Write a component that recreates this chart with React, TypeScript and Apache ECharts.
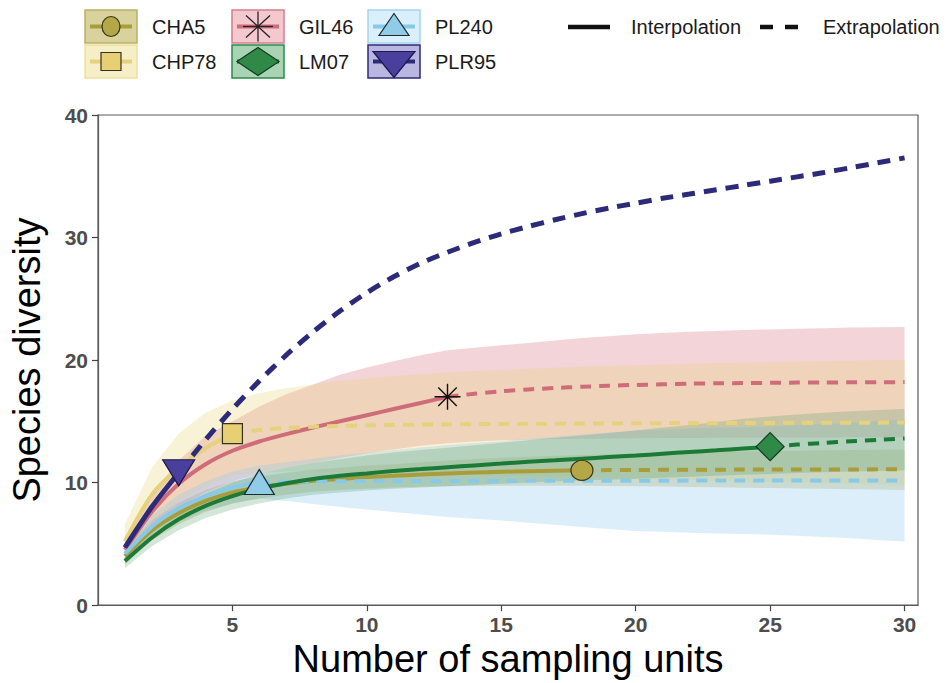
import React, { useEffect, useRef } from "react";
import * as echarts from "echarts";

const units = [1, 2, 3, 4, 5, 6, 7, 8, 9, 10, 11, 12, 13, 14, 15, 16, 17, 18, 19, 20, 21, 22, 23, 24, 25, 26, 27, 28, 29, 30];
const xTicks = [5, 10, 15, 20, 25, 30];

const cha5Mean = [4.0, 6.1, 7.5, 8.5, 9.2, 9.6, 9.9, 10.15, 10.3, 10.45, 10.55, 10.65, 10.75, 10.82, 10.88, 10.93, 10.97, 11.0, 11.02, 11.03, 11.04, 11.05, 11.05, 11.06, 11.06, 11.07, 11.07, 11.07, 11.08, 11.08];
const cha5Lo = [3.3, 5.3, 6.6, 7.6, 8.3, 8.7, 9.0, 9.25, 9.4, 9.5, 9.6, 9.65, 9.7, 9.72, 9.74, 9.75, 9.75, 9.75, 9.72, 9.7, 9.67, 9.64, 9.61, 9.58, 9.55, 9.52, 9.49, 9.46, 9.43, 9.4];
const cha5Hi = [4.7, 6.9, 8.4, 9.4, 10.1, 10.5, 10.8, 11.05, 11.2, 11.4, 11.5, 11.65, 11.8, 11.92, 12.02, 12.11, 12.19, 12.25, 12.31, 12.36, 12.41, 12.46, 12.5, 12.54, 12.57, 12.6, 12.63, 12.66, 12.68, 12.7];

const chp78Mean = [5.2, 9.0, 11.2, 12.8, 14.0, 14.3, 14.45, 14.55, 14.62, 14.67, 14.7, 14.73, 14.75, 14.77, 14.79, 14.8, 14.81, 14.82, 14.83, 14.84, 14.85, 14.86, 14.86, 14.87, 14.87, 14.88, 14.88, 14.89, 14.89, 14.9];
const chp78Lo = [3.9, 6.8, 8.5, 9.7, 10.6, 10.8, 10.9, 10.9, 10.85, 10.8, 10.75, 10.7, 10.65, 10.6, 10.55, 10.5, 10.45, 10.4, 10.35, 10.3, 10.25, 10.2, 10.15, 10.1, 10.05, 10.0, 9.95, 9.9, 9.85, 9.8];
const chp78Hi = [6.6, 11.2, 14.0, 15.7, 16.7, 17.3, 17.7, 18.0, 18.3, 18.5, 18.7, 18.85, 19.0, 19.1, 19.2, 19.3, 19.38, 19.45, 19.52, 19.58, 19.64, 19.7, 19.75, 19.8, 19.84, 19.88, 19.92, 19.95, 19.98, 20.0];

const gil46Mean = [4.5, 7.6, 9.9, 11.5, 12.6, 13.35, 13.95, 14.5, 15.0, 15.5, 16.0, 16.5, 17.0, 17.25, 17.45, 17.6, 17.72, 17.82, 17.9, 17.97, 18.02, 18.07, 18.1, 18.12, 18.14, 18.16, 18.17, 18.18, 18.19, 18.2];
const gil46Lo = [3.5, 6.2, 8.0, 9.2, 10.1, 10.7, 11.2, 11.6, 12.0, 12.4, 12.7, 13.0, 13.2, 13.35, 13.45, 13.5, 13.55, 13.58, 13.6, 13.62, 13.63, 13.64, 13.65, 13.66, 13.67, 13.68, 13.68, 13.69, 13.69, 13.7];
const gil46Hi = [5.5, 9.0, 11.8, 13.8, 15.0, 16.2, 17.2, 18.0, 18.8, 19.4, 19.9, 20.4, 20.8, 21.0, 21.2, 21.4, 21.6, 21.8, 21.95, 22.1, 22.2, 22.3, 22.38, 22.45, 22.5, 22.55, 22.6, 22.65, 22.68, 22.7];

const lm07Mean = [3.6, 5.5, 7.0, 8.1, 8.9, 9.5, 9.95, 10.3, 10.55, 10.75, 10.95, 11.1, 11.25, 11.4, 11.55, 11.7, 11.82, 11.95, 12.08, 12.2, 12.35, 12.5, 12.63, 12.78, 12.93, 13.1, 13.24, 13.37, 13.49, 13.6];
const lm07Lo = [3.0, 4.8, 6.1, 7.1, 7.8, 8.3, 8.7, 9.0, 9.2, 9.35, 9.5, 9.6, 9.7, 9.8, 9.9, 10.0, 10.08, 10.16, 10.24, 10.32, 10.4, 10.48, 10.56, 10.64, 10.7, 10.78, 10.84, 10.9, 10.95, 11.0];
const lm07Hi = [4.3, 6.3, 7.9, 9.1, 10.0, 10.7, 11.2, 11.6, 11.9, 12.2, 12.45, 12.65, 12.85, 13.05, 13.25, 13.45, 13.65, 13.85, 14.05, 14.25, 14.5, 14.7, 14.95, 15.2, 15.4, 15.55, 15.7, 15.82, 15.92, 16.0];

const pl240Mean = [4.2, 6.4, 7.9, 8.9, 9.6, 10.05, 10.08, 10.1, 10.11, 10.12, 10.12, 10.13, 10.13, 10.14, 10.14, 10.14, 10.15, 10.15, 10.15, 10.15, 10.15, 10.16, 10.16, 10.16, 10.16, 10.16, 10.16, 10.16, 10.16, 10.16];
const pl240Lo = [3.5, 5.5, 6.8, 7.7, 8.3, 8.7, 8.5, 8.25, 8.0, 7.8, 7.6, 7.4, 7.2, 7.05, 6.9, 6.72, 6.55, 6.38, 6.22, 6.05, 5.98, 5.9, 5.85, 5.8, 5.75, 5.65, 5.55, 5.45, 5.32, 5.2];
const pl240Hi = [4.9, 7.3, 9.0, 10.1, 10.9, 11.4, 11.66, 11.95, 12.22, 12.44, 12.64, 12.86, 13.06, 13.23, 13.38, 13.56, 13.75, 13.92, 14.08, 14.25, 14.32, 14.42, 14.47, 14.52, 14.57, 14.67, 14.77, 14.87, 15.0, 15.12];

const plr95Mean = [4.7, 8.0, 10.8, 13.5, 16.0, 18.3, 20.4, 22.3, 24.0, 25.5, 26.8, 27.9, 28.8, 29.6, 30.3, 30.9, 31.45, 31.95, 32.4, 32.8, 33.2, 33.55, 33.9, 34.25, 34.6, 34.95, 35.3, 35.7, 36.1, 36.5];

const FONT = "'Liberation Sans', Arial, Helvetica, sans-serif";

type Group = {
  name: string;
  mean: number[];
  lo: number[] | null;
  hi: number[] | null;
  obs: number;
  line: string;
  band: string;
  symbol: string;
  size: number | number[];
  rotate: number;
  fill: string;
  edge: string;
  z: number;
};

const groups: Group[] = [
  { name: "CHA5", mean: cha5Mean, lo: cha5Lo, hi: cha5Hi, obs: 18, line: "#a89d3a", band: "rgba(168,157,58,0.28)", symbol: "circle", size: [22, 20], rotate: 0, fill: "#b4a747", edge: "#3a3818", z: 3 },
  { name: "GIL46", mean: gil46Mean, lo: gil46Lo, hi: gil46Hi, obs: 13, line: "#cf6c79", band: "rgba(214,112,128,0.30)", symbol: "path://M10,0 L10,20 M0,10 L20,10 M2.9,2.9 L17.1,17.1 M2.9,17.1 L17.1,2.9", size: 26, rotate: 0, fill: "rgba(0,0,0,0)", edge: "#111111", z: 4 },
  { name: "CHP78", mean: chp78Mean, lo: chp78Lo, hi: chp78Hi, obs: 5, line: "#e6d27c", band: "rgba(232,212,120,0.30)", symbol: "rect", size: 20, rotate: 0, fill: "#e8cf74", edge: "#333322", z: 5 },
  { name: "PL240", mean: pl240Mean, lo: pl240Lo, hi: pl240Hi, obs: 6, line: "#88c9e7", band: "rgba(140,200,235,0.30)", symbol: "triangle", size: [30, 25], rotate: 0, fill: "#90cbe8", edge: "#1d2b33", z: 6 },
  { name: "LM07", mean: lm07Mean, lo: lm07Lo, hi: lm07Hi, obs: 25, line: "#1b7a36", band: "rgba(70,150,95,0.24)", symbol: "diamond", size: 28, rotate: 0, fill: "#2f8a48", edge: "#163a20", z: 7 },
  { name: "PLR95", mean: plr95Mean, lo: null, hi: null, obs: 3, line: "#2d2a7a", band: "rgba(45,42,122,0.2)", symbol: "triangle", size: [32, 26], rotate: 180, fill: "#4a3f9c", edge: "#1c1850", z: 8 },
];

function buildSeries(): any[] {
  const out: any[] = [];
  groups.forEach((g) => {
    if (g.lo && g.hi) {
      const lo = g.lo;
      const hi = g.hi;
      out.push({
        type: "custom",
        name: g.name + " band",
        silent: true,
        z: 1,
        clip: true,
        data: units.map((u, i) => [u, lo[i], hi[i]]),
        encode: { x: 0, y: [1, 2] },
        renderItem: (params: any, api: any) => {
          if (params.dataIndex !== 0) return null;
          const top = units.map((u, i) => api.coord([u, hi[i]]));
          const bot = units.map((u, i) => api.coord([u, lo[i]])).reverse();
          return {
            type: "polygon",
            shape: { points: top.concat(bot) },
            style: { fill: g.band, stroke: "none" },
          };
        },
      });
    }
  });
  groups.forEach((g) => {
    const k = g.obs - 1;
    const interp = units.slice(0, g.obs).map((u, i) => [u, g.mean[i]]);
    const extrap = units.slice(k).map((u, i) => [u, g.mean[k + i]]);
    const w = g.name === "PLR95" ? 5 : 4;
    out.push({
      type: "line",
      name: g.name + " interp",
      data: interp,
      showSymbol: false,
      silent: true,
      smooth: 0.25,
      z: g.z,
      lineStyle: { color: g.line, width: w, type: "solid", cap: "butt" },
    });
    out.push({
      type: "line",
      name: g.name + " extrap",
      data: extrap,
      showSymbol: false,
      silent: true,
      smooth: 0.25,
      z: g.z,
      lineStyle: { color: g.line, width: w, type: g.name === "PLR95" ? [13, 9] : [11, 8], cap: "butt" },
    });
  });
  groups.forEach((g) => {
    out.push({
      type: "scatter",
      name: g.name + " obs",
      data: [[g.obs, g.mean[g.obs - 1]]],
      symbol: g.symbol,
      symbolSize: g.size,
      symbolRotate: g.rotate,
      silent: true,
      z: 20,
      itemStyle: { color: g.fill, borderColor: g.edge, borderWidth: g.name === "GIL46" ? 1.4 : 1.2, opacity: 1 },
    });
  });
  return out;
}

function legendGraphics(): any[] {
  const els: any[] = [];
  const keys = [
    { name: "CHA5", bx: 85, by: 10, fill: "#d8d39c", border: "#b9b064", line: "#a89d3a" },
    { name: "CHP78", bx: 85, by: 45, fill: "#f6eec6", border: "#efdf9c", line: "#e6d27c" },
    { name: "GIL46", bx: 232, by: 10, fill: "#f3c8cf", border: "#d57f8c", line: "#cf6c79" },
    { name: "LM07", bx: 232, by: 45, fill: "#a9d4b4", border: "#2a8a4a", line: "#1b7a36" },
    { name: "PL240", bx: 368, by: 10, fill: "#d9effa", border: "#a3d5ee", line: "#88c9e7" },
    { name: "PLR95", bx: 368, by: 45, fill: "#b9b6df", border: "#2d2a7a", line: "#2d2a7a" },
  ];
  keys.forEach((k) => {
    const w = 52;
    const h = 33;
    const cx = k.bx + w / 2;
    const cy = k.by + h / 2;
    els.push({ type: "rect", shape: { x: k.bx, y: k.by, width: w, height: h }, style: { fill: k.fill, stroke: k.border, lineWidth: 1.5 }, silent: true });
    els.push({ type: "line", shape: { x1: k.bx + 5, y1: cy, x2: k.bx + w - 5, y2: cy }, style: { stroke: k.line, lineWidth: 4 }, silent: true });
    if (k.name === "CHA5") {
      els.push({ type: "ellipse", shape: { cx, cy, rx: 9, ry: 10 }, style: { fill: "#b4a747", stroke: "#3a3818", lineWidth: 1.2 } });
    } else if (k.name === "CHP78") {
      els.push({ type: "rect", shape: { x: cx - 10, y: cy - 9, width: 20, height: 18 }, style: { fill: "#e8cf74", stroke: "#333322", lineWidth: 1.2 } });
    } else if (k.name === "GIL46") {
      els.push({ type: "line", shape: { x1: cx, y1: cy - 15, x2: cx, y2: cy + 15 }, style: { stroke: "#222", lineWidth: 1.3 } });
      els.push({ type: "line", shape: { x1: cx - 15, y1: cy, x2: cx + 15, y2: cy }, style: { stroke: "#222", lineWidth: 1.3 } });
      els.push({ type: "line", shape: { x1: cx - 12, y1: cy - 11, x2: cx + 12, y2: cy + 11 }, style: { stroke: "#222", lineWidth: 1.3 } });
      els.push({ type: "line", shape: { x1: cx - 12, y1: cy + 11, x2: cx + 12, y2: cy - 11 }, style: { stroke: "#222", lineWidth: 1.3 } });
    } else if (k.name === "LM07") {
      els.push({ type: "polygon", shape: { points: [[cx, cy - 14], [cx + 21, cy], [cx, cy + 14], [cx - 21, cy]] }, style: { fill: "#2f8a48", stroke: "#163a20", lineWidth: 1.2 } });
    } else if (k.name === "PL240") {
      els.push({ type: "polygon", shape: { points: [[cx, cy - 13], [cx + 15, cy + 9], [cx - 15, cy + 9]] }, style: { fill: "#90cbe8", stroke: "#1d2b33", lineWidth: 1.2 } });
    } else if (k.name === "PLR95") {
      els.push({ type: "polygon", shape: { points: [[cx - 21, cy - 10], [cx + 21, cy - 10], [cx, cy + 16]] }, style: { fill: "#4a3f9c", stroke: "#1c1850", lineWidth: 1.2 } });
    }
    els.push({ type: "text", x: k.bx + w + 15, y: cy, style: { text: k.name, font: `20px ${FONT}`, fill: "#1a1a1a", textVerticalAlign: "middle", textAlign: "left" }, silent: true });
  });
  els.push({ type: "line", shape: { x1: 568, y1: 27, x2: 610, y2: 27 }, style: { stroke: "#111", lineWidth: 4.5 }, silent: true });
  els.push({ type: "text", x: 631, y: 27, style: { text: "Interpolation", font: `20px ${FONT}`, fill: "#1a1a1a", textVerticalAlign: "middle", textAlign: "left" }, silent: true });
  els.push({ type: "line", shape: { x1: 760, y1: 27, x2: 798, y2: 27 }, style: { stroke: "#111", lineWidth: 4.5, lineDash: [13, 12] }, silent: true });
  els.push({ type: "text", x: 823, y: 27, style: { text: "Extrapolation", font: `20px ${FONT}`, fill: "#1a1a1a", textVerticalAlign: "middle", textAlign: "left" }, silent: true });
  return els;
}

export default function App() {
  const ref = useRef<HTMLDivElement | null>(null);
  useEffect(() => {
    if (!ref.current) return;
    const chart = echarts.init(ref.current, null, { renderer: "svg" });
    chart.setOption({
      animation: false,
      backgroundColor: "#ffffff",
      textStyle: { fontFamily: FONT },
      grid: { left: 97, right: 28, top: 115, bottom: 71, show: true, borderColor: "#5a5a5a", borderWidth: 1.2, backgroundColor: "transparent" },
      xAxis: {
        type: "value",
        min: 0,
        max: 30.5,
        interval: 5,
        name: "Number of sampling units",
        nameLocation: "middle",
        nameGap: 31,
        nameTextStyle: { fontSize: 38, color: "#000", fontFamily: FONT },
        axisLine: { show: true, onZero: false, lineStyle: { color: "#5a5a5a", width: 1.2 } },
        axisTick: { show: true, length: 6, lineStyle: { color: "#444", width: 1.2 }, customValues: xTicks },
        axisLabel: { fontSize: 21, fontWeight: "bold", color: "#4d4d4d", margin: 9, customValues: xTicks, fontFamily: FONT },
        splitLine: { show: false },
      },
      yAxis: {
        type: "value",
        min: 0,
        max: 40,
        interval: 10,
        name: "Species diversity",
        nameLocation: "middle",
        nameGap: 52,
        nameRotate: 90,
        nameTextStyle: { fontSize: 38, color: "#000", fontFamily: FONT },
        axisLine: { show: true, lineStyle: { color: "#5a5a5a", width: 1.2 } },
        axisTick: { show: true, length: 6, lineStyle: { color: "#444", width: 1.2 } },
        axisLabel: { fontSize: 21, fontWeight: "bold", color: "#4d4d4d", margin: 10, fontFamily: FONT },
        splitLine: { show: false },
      },
      graphic: legendGraphics(),
      series: buildSeries(),
    });
    return () => chart.dispose();
  }, []);
  return <div ref={ref} style={{ position: "fixed", left: 0, top: 0, width: 946, height: 683 }} />;
}
